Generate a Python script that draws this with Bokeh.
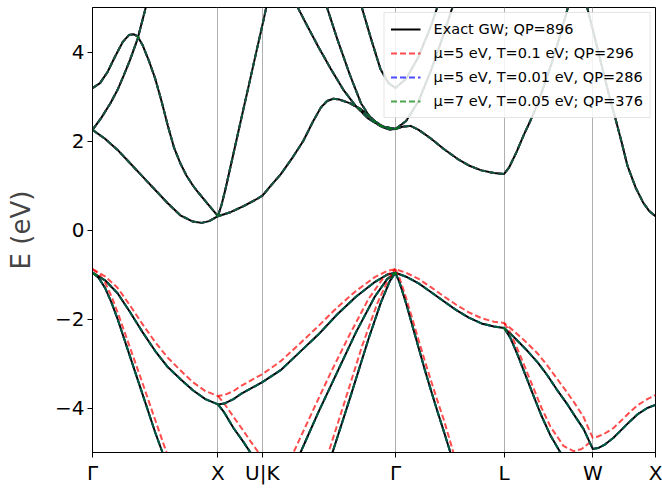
from bokeh.plotting import figure
from bokeh.models import FixedTicker, Range1d, ColumnDataSource
from bokeh.embed import file_html
from bokeh.resources import INLINE

# ---------------- path / axes ----------------
kpts = [0.0, 1.0, 1.354, 2.415, 3.281, 3.988, 4.488]
klabels = ["Γ", "X", "U|K", "Γ", "L", "W", "X"]
yticks = [-4, -2, 0, 2, 4]
ylabels = ["−4", "−2", "0", "2", "4"]

series_labels = ["Exact GW; QP=896",
                 "μ=5 eV, T=0.1 eV; QP=296",
                 "μ=5 eV, T=0.01 eV, QP=286",
                 "μ=7 eV, T=0.05 eV; QP=376"]
series_colors = ["black", "red", "blue", "green"]

# ---------------- valence bands ----------------
# top valence band along the whole path (exact and red share k samples)
vb_top_k = [0.0, 0.1, 0.2, 0.3, 0.4, 0.5, 0.6, 0.7, 0.8, 0.9, 1.0,
            1.05, 1.124, 1.18, 1.27, 1.354,
            1.5, 1.65, 1.8, 1.95, 2.1, 2.25, 2.35, 2.415,
            2.5, 2.6, 2.7, 2.8, 2.9, 3.0, 3.1, 3.2, 3.281,
            3.35, 3.468, 3.55, 3.627, 3.7, 3.786, 3.85, 3.914, 3.96, 3.988,
            4.03, 4.08, 4.153, 4.22, 4.288, 4.35, 4.423, 4.488]
vb_top_exact = [-0.96, -1.13, -1.42, -1.85, -2.3, -2.72, -3.08, -3.35, -3.6, -3.8, -3.92,
                -3.9, -3.8, -3.69, -3.55, -3.42,
                -3.15, -2.75, -2.35, -1.9, -1.5, -1.17, -1.0, -0.96,
                -1.05, -1.2, -1.4, -1.6, -1.8, -1.97, -2.1, -2.17, -2.2,
                -2.38, -2.72, -2.98, -3.27, -3.58, -3.92, -4.2, -4.47, -4.75, -4.92,
                -4.9, -4.83, -4.67, -4.48, -4.29, -4.13, -4.0, -3.93]
vb_top_red = [-0.88, -1.04, -1.3, -1.7, -2.12, -2.52, -2.87, -3.15, -3.42, -3.62, -3.73,
              -3.71, -3.62, -3.51, -3.37, -3.24,
              -2.95, -2.56, -2.16, -1.74, -1.37, -1.06, -0.92, -0.88,
              -0.96, -1.1, -1.29, -1.49, -1.68, -1.85, -1.98, -2.06, -2.09,
              -2.25, -2.55, -2.78, -3.05, -3.33, -3.66, -3.92, -4.2, -4.5, -4.67,
              -4.64, -4.58, -4.45, -4.27, -4.08, -3.93, -3.8, -3.71]

# steep band Gamma -> X
vb_gx_k = [0.0, 0.05, 0.1, 0.15, 0.2, 0.3, 0.4, 0.5, 0.558, 0.65]
vb_gx_exact = [-0.96, -1.08, -1.3, -1.62, -2.0, -2.85, -3.7, -4.55, -5.0, -5.7]
vb_gx_red_k = [0.0, 0.05, 0.1, 0.15, 0.2, 0.3, 0.4, 0.5, 0.59, 0.68]
vb_gx_red = [-0.88, -0.98, -1.18, -1.48, -1.85, -2.65, -3.45, -4.27, -5.0, -5.7]

# lower band X -> U
vb_xu_k = [1.0, 1.05, 1.124, 1.2, 1.259, 1.32]
vb_xu_exact = [-3.92, -4.1, -4.45, -4.75, -5.0, -5.3]
vb_xu_red_k = [1.0, 1.05, 1.124, 1.2, 1.26, 1.323, 1.38]
vb_xu_red = [-3.73, -3.9, -4.2, -4.5, -4.75, -5.0, -5.3]

# two steep bands K -> Gamma
vb_kga_k = [1.6, 1.658, 1.8, 1.95, 2.1, 2.25, 2.35, 2.415]
vb_kga_exact = [-5.3, -5.0, -4.1, -3.2, -2.3, -1.5, -1.1, -0.96]
vb_kga_red_k = [1.55, 1.602, 1.75, 1.9, 2.05, 2.2, 2.32, 2.415]
vb_kga_red = [-5.35, -5.0, -4.1, -3.2, -2.35, -1.55, -1.07, -0.88]

vb_kgb_k = [1.85, 1.913, 2.05, 2.2, 2.3, 2.37, 2.415]
vb_kgb_exact = [-5.5, -5.0, -3.8, -2.45, -1.62, -1.15, -0.96]
vb_kgb_red_k = [1.82, 1.881, 2.0, 2.15, 2.27, 2.36, 2.415]
vb_kgb_red = [-5.5, -5.0, -3.95, -2.6, -1.65, -1.1, -0.88]

# steep band Gamma -> L
vb_gl_k = [2.415, 2.45, 2.5, 2.55, 2.6, 2.65, 2.7, 2.75, 2.8, 2.853, 2.9]
vb_gl_exact = [-0.96, -1.2, -1.65, -2.15, -2.65, -3.15, -3.62, -4.08, -4.52, -5.0, -5.4]
vb_gl_red_k = [2.415, 2.45, 2.5, 2.55, 2.6, 2.65, 2.7, 2.75, 2.8, 2.877, 2.92]
vb_gl_red = [-0.88, -1.1, -1.53, -2.0, -2.48, -2.95, -3.4, -3.84, -4.26, -5.0, -5.4]

# lower band L -> W
vb_lw_k = [3.281, 3.33, 3.388, 3.45, 3.515, 3.58, 3.651, 3.73, 3.8, 3.9, 3.988]
vb_lw_exact = [-2.2, -2.42, -2.8, -3.25, -3.72, -4.18, -4.62, -5.0, -5.22, -5.3, -5.15]
vb_lw_red_k = [3.281, 3.33, 3.388, 3.45, 3.515, 3.58, 3.651, 3.754, 3.834, 3.9, 3.988]
vb_lw_red = [-2.09, -2.3, -2.68, -3.1, -3.55, -4.0, -4.42, -4.85, -4.97, -4.92, -4.72]

# ---------------- conduction bands (identical for all runs) ----------------
cb1_k = [0.0, 0.1, 0.2, 0.3, 0.4, 0.5, 0.6, 0.7, 0.8, 0.87, 0.93, 1.0,
         1.1, 1.2, 1.3, 1.354, 1.42, 1.5, 1.6, 1.68, 1.76, 1.82, 1.87, 1.92, 1.97,
         2.05, 2.136, 2.2, 2.26, 2.32, 2.37, 2.415,
         2.47, 2.535, 2.6, 2.7, 2.8, 2.909, 3.0, 3.1, 3.2, 3.281,
         3.32, 3.38, 3.44, 3.49, 3.547, 3.6, 3.66, 3.72, 3.78, 3.8]
cb1_e = [2.25, 2.05, 1.8, 1.5, 1.2, 0.9, 0.6, 0.33, 0.19, 0.16, 0.2, 0.31,
         0.4, 0.53, 0.68, 0.77, 0.99, 1.25, 1.65, 2.0, 2.45, 2.75, 2.9, 2.95, 2.93,
         2.85, 2.72, 2.58, 2.42, 2.3, 2.26, 2.27,
         2.32, 2.34, 2.25, 2.05, 1.82, 1.6, 1.45, 1.34, 1.28, 1.26,
         1.4, 1.75, 2.15, 2.45, 2.83, 3.25, 3.75, 4.3, 4.9, 5.1]

cb2_k = [0.0, 0.07, 0.143, 0.2, 0.247, 0.3, 0.359, 0.422, 0.45]
cb2_e = [2.25, 2.52, 2.85, 3.15, 3.46, 3.83, 4.29, 4.97, 5.3]

cb3_k = [0.0, 0.06, 0.12, 0.18, 0.24, 0.29, 0.327, 0.36, 0.4, 0.45, 0.5, 0.55,
         0.6, 0.65, 0.7, 0.75, 0.8, 0.85, 0.9, 0.95, 1.0]
cb3_e = [3.19, 3.3, 3.55, 3.9, 4.22, 4.38, 4.4, 4.35, 4.15, 3.8, 3.4, 2.9,
         2.35, 1.85, 1.5, 1.22, 1.0, 0.82, 0.65, 0.48, 0.31]

cb_xu_k = [1.0, 1.03, 1.06, 1.1, 1.15, 1.2, 1.25, 1.3, 1.35, 1.366, 1.4]
cb_xu_e = [0.31, 0.58, 0.92, 1.42, 2.05, 2.68, 3.3, 3.93, 4.55, 4.75, 5.2]

cb_kg2_k = [1.6, 1.642, 1.7, 1.8, 1.9, 2.0, 2.1, 2.2, 2.3, 2.415]
cb_kg2_e = [5.2, 4.97, 4.65, 4.12, 3.62, 3.15, 2.78, 2.5, 2.33, 2.27]

cb_kg3_k = [1.84, 1.873, 1.95, 2.05, 2.14, 2.22, 2.32, 2.415]
cb_kg3_e = [5.25, 4.97, 4.3, 3.5, 2.85, 2.5, 2.32, 2.27]

cb_kg4_k = [2.12, 2.15, 2.22, 2.295, 2.36, 2.415]
cb_kg4_e = [5.25, 4.97, 4.3, 3.62, 3.3, 3.19]

cb_gl2_k = [2.415, 2.5, 2.6, 2.7, 2.8, 2.88]
cb_gl2_e = [2.27, 2.45, 2.9, 3.6, 4.4, 5.1]

cb_gl3_k = [2.415, 2.5, 2.6, 2.7, 2.76]
cb_gl3_e = [3.19, 3.4, 3.9, 4.6, 5.1]

cb_wx_k = [3.92, 3.946, 3.988, 4.05, 4.12, 4.17, 4.22, 4.265, 4.33, 4.391, 4.44, 4.488]
cb_wx_e = [5.25, 4.97, 4.5, 3.8, 3.0, 2.49, 1.95, 1.44, 0.95, 0.61, 0.42, 0.31]

conduction = [(cb1_k, cb1_e), (cb2_k, cb2_e), (cb3_k, cb3_e), (cb_xu_k, cb_xu_e),
              (cb_kg2_k, cb_kg2_e), (cb_kg3_k, cb_kg3_e), (cb_kg4_k, cb_kg4_e),
              (cb_gl2_k, cb_gl2_e), (cb_gl3_k, cb_gl3_e), (cb_wx_k, cb_wx_e)]

valence_exact = [(vb_top_k, vb_top_exact), (vb_gx_k, vb_gx_exact), (vb_xu_k, vb_xu_exact),
                 (vb_kga_k, vb_kga_exact), (vb_kgb_k, vb_kgb_exact), (vb_gl_k, vb_gl_exact),
                 (vb_lw_k, vb_lw_exact)]
valence_red = [(vb_top_k, vb_top_red), (vb_gx_red_k, vb_gx_red), (vb_xu_red_k, vb_xu_red),
               (vb_kga_red_k, vb_kga_red), (vb_kgb_red_k, vb_kgb_red), (vb_gl_red_k, vb_gl_red),
               (vb_lw_red_k, vb_lw_red)]

series_bands = [valence_exact + conduction,
                valence_red + conduction,
                valence_exact + conduction,
                valence_exact + conduction]

# ---------------- figure ----------------
FONT = "DejaVu Sans"
p = figure(width=662, height=488, output_backend="svg", toolbar_location=None,
           x_range=Range1d(kpts[0], kpts[-1]), y_range=Range1d(-5, 5),
           min_border_left=92, min_border_right=7, min_border_top=7, min_border_bottom=36)
p.background_fill_color = "white"
p.border_fill_color = "white"
p.outline_line_color = "black"
p.outline_line_width = 1

for i, bands in enumerate(series_bands):
    src = ColumnDataSource(dict(xs=[b[0] for b in bands], ys=[b[1] for b in bands]))
    if i == 0:
        p.multi_line(xs="xs", ys="ys", source=src, line_color=series_colors[i],
                     line_width=2, line_join="round", legend_label=series_labels[i])
    else:
        p.multi_line(xs="xs", ys="ys", source=src, line_color=series_colors[i],
                     line_width=2, line_alpha=0.7, line_dash="6 3", line_join="round",
                     legend_label=series_labels[i])

# x axis
p.xaxis.ticker = FixedTicker(ticks=kpts)
p.xaxis.major_label_overrides = {k: lab for k, lab in zip(kpts, klabels)}
p.xgrid.ticker = FixedTicker(ticks=kpts[1:-1])
p.xgrid.grid_line_color = "#b0b0b0"
p.xgrid.grid_line_width = 1
p.ygrid.grid_line_color = None

# y axis
p.yaxis.ticker = FixedTicker(ticks=yticks)
p.yaxis.major_label_overrides = {t: lab for t, lab in zip(yticks, ylabels)}
p.yaxis.axis_label = "E (eV)"
p.yaxis.axis_label_text_font = FONT
p.yaxis.axis_label_text_font_style = "normal"
p.yaxis.axis_label_text_font_size = "26px"
p.yaxis.axis_label_standoff = 16

for ax in (p.xaxis, p.yaxis):
    ax.major_label_text_font = FONT
    ax.major_label_text_font_size = "20px"
    ax.major_label_text_color = "black"
    ax.axis_line_color = "black"
    ax.major_tick_line_color = "black"
    ax.major_tick_out = 5
    ax.major_tick_in = 0
    ax.minor_tick_line_color = None
    ax.major_label_standoff = 3

# legend
lg = p.legend[0]
lg.location = "top_right"
lg.label_text_font = FONT
lg.label_text_font_size = "14.5px"
lg.label_text_color = "black"
lg.glyph_width = 30
lg.glyph_height = 20
lg.label_height = 20
lg.label_standoff = 13
lg.spacing = 4
lg.padding = 6
lg.margin = 5
lg.border_line_color = "#cccccc"
lg.border_line_width = 1
lg.background_fill_color = "white"
lg.background_fill_alpha = 0.85

open("out.html", "w").write(file_html(p, INLINE))
